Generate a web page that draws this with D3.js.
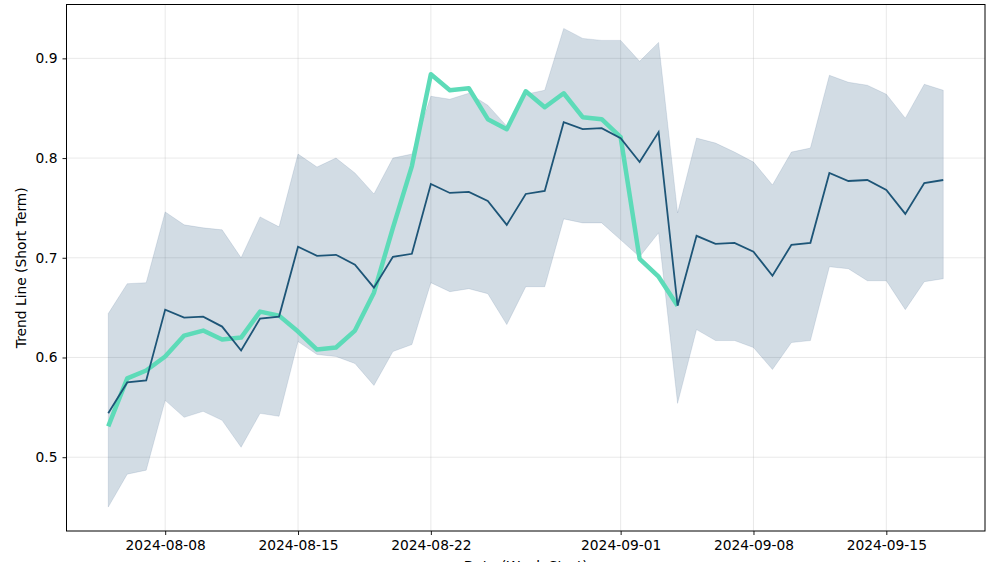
<!DOCTYPE html>
<html>
<head>
<meta charset="utf-8">
<script src="https://cdn.jsdelivr.net/npm/d3@7"></script>
<style>
  body { margin: 0; background: #fff; }
  text { font-family: "DejaVu Sans", sans-serif; }
</style>
</head>
<body>
<div class="chart"></div>
<script>
var svgWidth = 1000;
var svgHeight = 562;

var margin = {top: 4.5, right: 15, bottom: 31, left: 66.5};

var width = svgWidth - margin.left - margin.right;
var height = svgHeight - margin.top - margin.bottom;

// daily dates from 2024-08-05 to 2024-09-18
var startDate = "2024-08-05";
var dayCount = 45;

var trendValues = [0.544, 0.575, 0.577, 0.648, 0.640, 0.641, 0.631, 0.607, 0.639, 0.641,
    0.711, 0.702, 0.703, 0.693, 0.670, 0.701, 0.704, 0.774, 0.765, 0.766,
    0.757, 0.733, 0.764, 0.767, 0.836, 0.829, 0.830, 0.820, 0.796, 0.826,
    0.652, 0.722, 0.714, 0.715, 0.706, 0.682, 0.713, 0.715, 0.785, 0.777,
    0.778, 0.768, 0.744, 0.775, 0.778];

var upperValues = [0.644, 0.674, 0.675, 0.746, 0.733, 0.730, 0.728, 0.700, 0.741, 0.731,
    0.804, 0.791, 0.800, 0.785, 0.764, 0.800, 0.804, 0.862, 0.859, 0.865,
    0.853, 0.832, 0.864, 0.868, 0.930, 0.920, 0.918, 0.918, 0.897, 0.916,
    0.745, 0.820, 0.815, 0.806, 0.796, 0.773, 0.806, 0.810, 0.883, 0.876,
    0.873, 0.864, 0.840, 0.874, 0.868];

var lowerValues = [0.450, 0.483, 0.487, 0.557, 0.540, 0.546, 0.537, 0.510, 0.544, 0.541,
    0.616, 0.603, 0.601, 0.594, 0.572, 0.606, 0.613, 0.675, 0.666, 0.669,
    0.664, 0.633, 0.671, 0.671, 0.739, 0.735, 0.735, 0.718, 0.701, 0.725,
    0.554, 0.628, 0.617, 0.617, 0.610, 0.588, 0.615, 0.617, 0.691, 0.689,
    0.677, 0.677, 0.648, 0.676, 0.679];

// highlighted stretch, first 31 days
var highlightValues = [0.531, 0.579, 0.587, 0.601, 0.622, 0.627, 0.618, 0.620, 0.646, 0.642,
    0.626, 0.608, 0.610, 0.627, 0.665, 0.730, 0.792, 0.884, 0.868, 0.870,
    0.839, 0.829, 0.867, 0.851, 0.865, 0.841, 0.839, 0.821, 0.699, 0.681,
    0.652];

var xTickLabels = ["2024-08-08", "2024-08-15", "2024-08-22", "2024-09-01", "2024-09-08", "2024-09-15"];
var yTickValues = [0.5, 0.6, 0.7, 0.8, 0.9];

var parseDate = d3.timeParse("%Y-%m-%d");
var dates = d3.timeDay.range(parseDate(startDate), d3.timeDay.offset(parseDate(startDate), dayCount));

var data = dates.map(function(d, i) {
    return {date: d, trend: trendValues[i], upper: upperValues[i], lower: lowerValues[i],
        hl: i < highlightValues.length ? highlightValues[i] : null};
});

var svg = d3
    .select(".chart")
    .append("svg")
    .attr("width", svgWidth)
    .attr("height", svgHeight)
    .append("g")
    .attr("transform", "translate(" + margin.left + "," + margin.top + ")");

// matplotlib-style 5% padding
var xExtent = d3.extent(dates);
var xPad = (xExtent[1] - xExtent[0]) * 0.05;
var xScale = d3.scaleTime()
    .domain([new Date(+xExtent[0] - xPad), new Date(+xExtent[1] + xPad)])
    .range([0, width]);

var yMin = d3.min(lowerValues), yMax = d3.max(upperValues);
var yPad = (yMax - yMin) * 0.05;
var yScale = d3.scaleLinear()
    .domain([yMin - yPad, yMax + yPad])
    .range([height, 0]);

var xTicks = xTickLabels.map(parseDate);

// grid
svg.append("g")
    .selectAll("line.vgrid")
    .data(xTicks)
    .enter()
    .append("line")
    .attr("x1", function(d) { return xScale(d); })
    .attr("x2", function(d) { return xScale(d); })
    .attr("y1", 0)
    .attr("y2", height)
    .style("stroke", "#b0b0b0")
    .style("stroke-opacity", 0.35)
    .style("stroke-width", 0.8);

svg.append("g")
    .selectAll("line.hgrid")
    .data(yTickValues)
    .enter()
    .append("line")
    .attr("x1", 0)
    .attr("x2", width)
    .attr("y1", function(d) { return yScale(d); })
    .attr("y2", function(d) { return yScale(d); })
    .style("stroke", "#b0b0b0")
    .style("stroke-opacity", 0.35)
    .style("stroke-width", 0.8);

// band
var area = d3.area()
    .x(function(d) { return xScale(d.date); })
    .y0(function(d) { return yScale(d.lower); })
    .y1(function(d) { return yScale(d.upper); });

svg.append("path")
    .datum(data)
    .attr("d", area)
    .style("fill", "#1f4e79")
    .style("fill-opacity", 0.2)
    .style("stroke", "#1f4e79")
    .style("stroke-opacity", 0.12)
    .style("stroke-width", 1);

// highlight line
var hlLine = d3.line()
    .defined(function(d) { return d.hl !== null; })
    .x(function(d) { return xScale(d.date); })
    .y(function(d) { return yScale(d.hl); });

svg.append("path")
    .datum(data)
    .attr("d", hlLine)
    .style("fill", "none")
    .style("stroke", "#5ddbb8")
    .style("stroke-width", 4.5)
    .style("stroke-linejoin", "round");

// trend line
var trendLine = d3.line()
    .x(function(d) { return xScale(d.date); })
    .y(function(d) { return yScale(d.trend); });

svg.append("path")
    .datum(data)
    .attr("d", trendLine)
    .style("fill", "none")
    .style("stroke", "#1d5577")
    .style("stroke-width", 1.8);

// axes
var bottomAxis = d3.axisBottom(xScale)
    .tickValues(xTicks)
    .tickFormat(d3.timeFormat("%Y-%m-%d"))
    .tickSizeOuter(0)
    .tickSize(4)
    .tickPadding(5);

var leftAxis = d3.axisLeft(yScale)
    .tickValues(yTickValues)
    .tickFormat(d3.format(".1f"))
    .tickSizeOuter(0)
    .tickSize(4)
    .tickPadding(5);

var xAxisG = svg.append("g")
    .attr("transform", "translate(0," + height + ")")
    .call(bottomAxis);

var yAxisG = svg.append("g")
    .call(leftAxis);

[xAxisG, yAxisG].forEach(function(g) {
    g.select(".domain").remove();
    g.selectAll("text").style("font-size", "13.8px").style("fill", "#000");
    g.selectAll("line").style("stroke", "#000").style("stroke-width", 0.9);
});

// frame
svg.append("rect")
    .attr("x", 0)
    .attr("y", 0)
    .attr("width", width)
    .attr("height", height)
    .style("fill", "none")
    .style("stroke", "#000")
    .style("stroke-width", 1);

// axis labels
svg.append("text")
    .attr("transform", "rotate(-90)")
    .attr("x", -height / 2)
    .attr("y", -41)
    .attr("text-anchor", "middle")
    .style("font-size", "13.8px")
    .text("Trend Line (Short Term)");

svg.append("text")
    .attr("x", width / 2)
    .attr("y", height + 40)
    .attr("text-anchor", "middle")
    .style("font-size", "13.8px")
    .text("Date (Week Start)");
</script>
</body>
</html>
